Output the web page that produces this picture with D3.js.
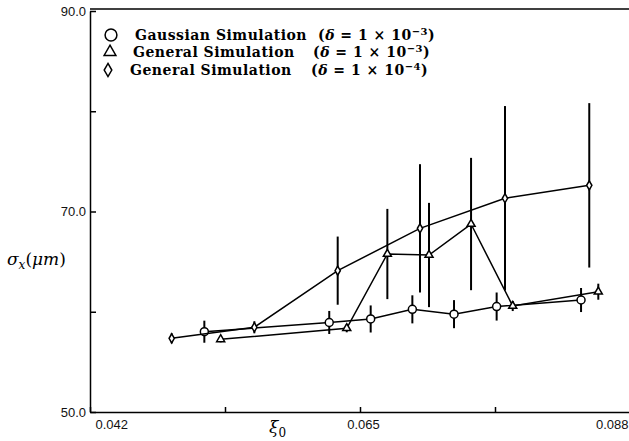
<!DOCTYPE html>
<html>
<head>
<meta charset="utf-8">
<script src="https://cdn.jsdelivr.net/npm/d3@7"></script>
<style>
  body { margin: 0; background: #fff; }
  svg { display: block; }
  .tick text { font-family: "Liberation Sans", Arial, sans-serif; font-size: 13px; fill: #111; }
</style>
</head>
<body>
<svg id="chart" width="629" height="441"></svg>
<script>
// gaussian simulation, delta = 1e-3
const gaussX   = [0.05174, 0.06238, 0.06591, 0.06946, 0.07301, 0.07664, 0.08383];
const gaussY   = [58.01, 58.93, 59.28, 60.24, 59.76, 60.52, 61.17];
const gaussErr = [1.1, 1.15, 1.35, 1.4, 1.4, 1.4, 1.2];

// general simulation, delta = 1e-3
const gen3X   = [0.05313, 0.06387, 0.06733, 0.07088, 0.07446, 0.07801, 0.0853];
const gen3Y   = [57.25, 58.35, 65.76, 65.66, 68.75, 60.57, 62.0];
const gen3Err = [0.3, 0.4, 4.5, 5.2, 6.6, 0.5, 0.8];

// general simulation, delta = 1e-4
const gen4X   = [0.04896, 0.05600, 0.0631, 0.07011, 0.07735, 0.08453];
const gen4Y   = [57.35, 58.45, 64.1, 68.32, 71.32, 72.61];
const gen4Err = [0.5, 0.6, 3.4, 6.4, 9.2, 8.2];

const xTicks = [0.042, 0.0535, 0.065, 0.0765, 0.088];
const xLabels = [0.042, 0.065, 0.088];
const yTicks = [50, 60, 70, 80, 90];
const yLabels = [50, 70, 90];

const MARGIN = { LEFT: 90, RIGHT: 0, TOP: 11, BOTTOM: 29 };
const width = 629, height = 441;

let svg = d3.select("#chart");

let xScale = d3.scaleLinear()
  .domain([0.042, 0.088])
  .range([MARGIN.LEFT, 630]);

let yScale = d3.scaleLinear()
  .domain([50, 90])
  .range([height - MARGIN.BOTTOM, MARGIN.TOP]);

// frame: top line
svg.append("line")
  .attr("x1", MARGIN.LEFT).attr("x2", width)
  .attr("y1", 9).attr("y2", 9)
  .attr("stroke", "#000").attr("stroke-width", 1.5);

// axes
let xAxis = d3.axisBottom(xScale)
  .tickValues(xTicks)
  .tickSizeInner(-5)
  .tickSizeOuter(0)
  .tickPadding(8)
  .tickFormat(d => xLabels.includes(d) ? d3.format(".3f")(d) : "");

let gx = svg.append("g")
  .attr("transform", "translate(0," + yScale(50) + ")")
  .call(xAxis);
gx.select(".domain").attr("stroke-width", 1.5);
gx.selectAll(".tick line").attr("stroke-width", 1.5);
gx.selectAll(".tick text")
  .attr("text-anchor", d => d == 0.042 ? "start" : (d == 0.088 ? "end" : "middle"))
  .attr("dx", d => d == 0.042 ? 5 : (d == 0.088 ? -2 : 3));

let yAxis = d3.axisLeft(yScale)
  .tickValues(yTicks)
  .tickSizeInner(-6)
  .tickSizeOuter(0)
  .tickPadding(4)
  .tickFormat(d => yLabels.includes(d) ? d3.format(".1f")(d) : "");

let gy = svg.append("g")
  .attr("transform", "translate(" + MARGIN.LEFT + ",0)")
  .call(yAxis);
gy.select(".domain").attr("stroke-width", 1.5);
gy.selectAll(".tick line").attr("stroke-width", 1.5);

// axis titles
let xt = svg.append("text")
  .attr("x", 269).attr("y", 433)
  .style("font-family", "'DejaVu Serif', serif")
  .style("font-size", "17px");
xt.append("tspan").style("font-style", "italic").text("ξ");
xt.append("tspan").attr("dy", 4).style("font-size", "12px").text("0");

let yt = svg.append("text")
  .attr("x", 7).attr("y", 265)
  .style("font-family", "'DejaVu Serif', serif")
  .style("font-size", "17px")
  .style("font-style", "italic");
yt.append("tspan").text("σ");
yt.append("tspan").attr("dy", 4).style("font-size", "12px").text("x");
yt.append("tspan").attr("dy", -4).style("font-style", "normal").text("(");
yt.append("tspan").text("μm");
yt.append("tspan").style("font-style", "normal").text(")");

// series helper
let chart = svg.append("g").attr("id", "plot");

function drawSeries(xs, ys, errs, symbol) {
  let pts = xs.map((x, i) => ({ x: x, y: ys[i], e: errs[i] }));

  chart.append("g").selectAll("line")
    .data(pts).enter().append("line")
    .attr("x1", d => xScale(d.x)).attr("x2", d => xScale(d.x))
    .attr("y1", d => yScale(d.y - d.e)).attr("y2", d => yScale(d.y + d.e))
    .attr("stroke", "#000").attr("stroke-width", 2);

  chart.append("path")
    .datum(pts)
    .attr("fill", "none")
    .attr("stroke", "#000")
    .attr("stroke-width", 1.5)
    .attr("d", d3.line().x(d => xScale(d.x)).y(d => yScale(d.y)));

  chart.append("g").selectAll("path")
    .data(pts).enter().append("path")
    .attr("transform", d => "translate(" + xScale(d.x) + "," + yScale(d.y) + ")")
    .attr("d", symbol)
    .attr("fill", "#fff")
    .attr("stroke", "#000")
    .attr("stroke-width", 1.5);
}

drawSeries(gaussX, gaussY, gaussErr, d3.symbol().type(d3.symbolCircle).size(50)());
drawSeries(gen3X, gen3Y, gen3Err, d3.symbol().type(d3.symbolTriangle).size(28)());
drawSeries(gen4X, gen4Y, gen4Err, d3.symbol().type(d3.symbolDiamond).size(24)());

// legend
const legendNames = ["Gaussian Simulation", "General Simulation", "General Simulation"];
const legendExp = ["−3", "−3", "−4"];
const legendSyms = [
  d3.symbol().type(d3.symbolCircle).size(110)(),
  d3.symbol().type(d3.symbolTriangle).size(60)(),
  d3.symbol().type(d3.symbolDiamond).size(50)()
];
const legendRowY = [35, 52, 70];
const legendSymX = [111, 110, 108];
const legendTextX = [135, 133, 130];
const legendDeltaX = [318, 313, 311];

let legend = svg.append("g").attr("id", "legend")
  .style("font-family", "'DejaVu Serif', serif")
  .style("font-size", "14px")
  .style("letter-spacing", "0.5px");

for (let i = 0; i < legendNames.length; i++) {
  legend.append("path")
    .attr("transform", "translate(" + legendSymX[i] + "," + legendRowY[i] + ")")
    .attr("d", legendSyms[i])
    .attr("fill", "none").attr("stroke", "#000").attr("stroke-width", 1.5);
  legend.append("text")
    .attr("x", legendTextX[i]).attr("y", legendRowY[i] + 5)
    .style("font-weight", "bold")
    .text(legendNames[i]);
  let t = legend.append("text")
    .attr("x", legendDeltaX[i]).attr("y", legendRowY[i] + 5)
    .style("font-weight", "bold");
  t.append("tspan").text("(");
  t.append("tspan").style("font-style", "italic").text("δ");
  t.append("tspan").text(" = 1 × 10");
  t.append("tspan").attr("dy", -5).style("font-size", "10px").text(legendExp[i]);
  t.append("tspan").attr("dy", 5).text(")");
}
</script>
</body>
</html>
